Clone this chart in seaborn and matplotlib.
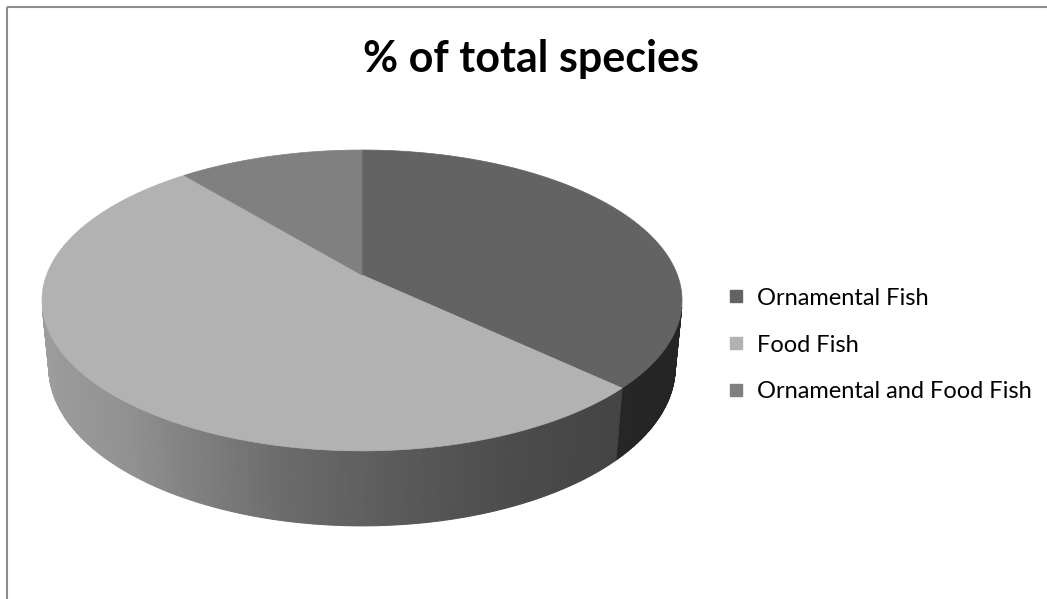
import numpy as np
import matplotlib
matplotlib.use("Agg")
import matplotlib.pyplot as plt
from matplotlib.lines import Line2D
from matplotlib.patches import Rectangle
import seaborn as sns

# Share of total species by use category
categories = ["Ornamental Fish", "Food Fish", "Ornamental and Food Fish"]
shares = [37, 52, 11]
chart_title = "% of total species"

sns.set_theme(style="white")
plt.rcParams["font.family"] = ["Lato", "Liberation Sans", "DejaVu Sans"]

top_colors = ["#636363", "#b2b2b2", "#808080"]

W, H = 1047, 599
fig = plt.figure(figsize=(W / 100, H / 100), dpi=100)
ax = fig.add_axes([0, 0, 1, 1])
ax.set_xlim(0, W)
ax.set_ylim(H, 0)
ax.axis("off")

# Perspective camera looking down on a unit-radius disc
cx, cy = 362.0, 275.0
elev = np.radians(27.6)
dist = 5.24
cam_l = dist * np.cos(elev)
cam_h = dist * np.sin(elev)
focal = 315.4 * dist
thick = 0.242


def project(X, Y, Z):
    den = Y * cam_l + dist ** 2 - Z * cam_h
    px = cx + focal * X * dist / den
    py = cy - focal * (Y * cam_h + Z * cam_l) / den
    return px, py


def shade(c, f):
    rgb = np.array(matplotlib.colors.to_rgb(c))
    return tuple(np.clip(rgb * f, 0, 1))


# lighting of the outer wall as a function of the normal's x component
light_x = [-1.0, -0.66, -0.2, 0.12, 0.43, 0.74, 1.0]
light_f = [0.89, 0.82, 0.60, 0.50, 0.42, 0.38, 0.37]

fracs = np.array(shares, dtype=float) / np.sum(shares)
bounds = np.concatenate([[0], np.cumsum(fracs) * 360.0])

# outer walls, back to front
walls = []
for i, col in enumerate(top_colors):
    a0, a1 = bounds[i], bounds[i + 1]
    n = max(2, int(np.ceil((a1 - a0) / 0.5)))
    phis = np.radians(np.linspace(a0, a1, n + 1))
    for p0, p1 in zip(phis[:-1], phis[1:]):
        pm = 0.5 * (p0 + p1)
        if np.cos(pm) >= -1.0 / cam_l:
            continue
        xs, ys = [], []
        for p, z in [(p0, 0), (p1, 0), (p1, -thick), (p0, -thick)]:
            px, py = project(np.sin(p), np.cos(p), z)
            xs.append(px)
            ys.append(py)
        f = np.interp(np.sin(pm), light_x, light_f)
        walls.append((np.cos(pm), xs, ys, shade(col, f)))

for _, xs, ys, c in sorted(walls, key=lambda w: -w[0]):
    ax.fill(xs, ys, color=c, lw=0.8, ec=c, antialiased=True)

# top faces
for i, col in enumerate(top_colors):
    a0, a1 = bounds[i], bounds[i + 1]
    phis = np.radians(np.linspace(a0, a1, int((a1 - a0) * 2) + 2))
    xs, ys = project(np.sin(phis), np.cos(phis), 0.0)
    ox, oy = project(0.0, 0.0, 0.0)
    ax.fill(np.concatenate([[ox], xs]), np.concatenate([[oy], ys]),
            color=col, lw=0.5, ec=col)

ax.text(531, 72, chart_title, ha="center", va="baseline", fontsize=31,
        fontweight="bold", color="black")

handles = [Line2D([], [], marker="s", ls="none", markersize=8.5,
                  markerfacecolor=c, markeredgecolor=c) for c in top_colors]
ax.legend(handles, categories, loc="center left", bbox_to_anchor=(727, 345),
          bbox_transform=ax.transData, frameon=False, fontsize=17,
          labelcolor="black",
          handlelength=0.8, handletextpad=0.45, labelspacing=1.1,
          borderpad=0, borderaxespad=0)

# chart area frame
ax.add_patch(Rectangle((7, 7), 1200, 800, fill=False, ec="#8c8c8c", lw=1.5))

fig.savefig("out.png", dpi=100)
